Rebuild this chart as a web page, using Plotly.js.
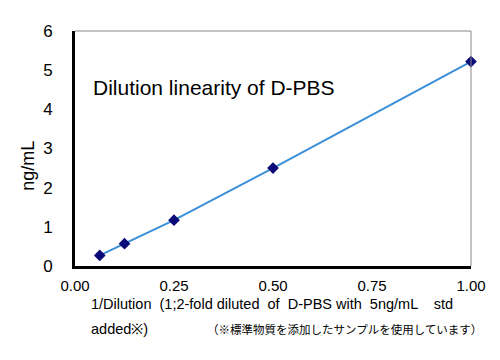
<!DOCTYPE html>
<html><head><meta charset="utf-8">
<script src="https://cdn.plot.ly/plotly-3.0.1.min.js"></script>
<style>body{margin:0;background:#fff}#c{width:500px;height:360px}</style>
</head><body><div id="c"></div>
<script>
const xValues = [0.0625, 0.125, 0.25, 0.5, 1.0];
const yValues = [0.27, 0.57, 1.17, 2.5, 5.22];
const xTicks = [0, 0.25, 0.5, 0.75, 1.0];
const xTickLabels = ["0.00", "0.25", "0.50", "0.75", "1.00"];
const yTicks = [0, 1, 2, 3, 4, 5, 6];

const FONT = "Liberation Sans, Arial, sans-serif";
const trace = {
  x: xValues, y: yValues, type: "scatter", mode: "lines+markers",
  line: {color: "#3b8fd8", width: 2},
  marker: {symbol: "diamond", size: 9, color: "#0a0a78"},
  cliponaxis: false, hoverinfo: "none"
};
const layout = {
  width: 500, height: 360,
  margin: {l: 75, r: 29, t: 31, b: 94},
  paper_bgcolor: "#fff", plot_bgcolor: "#fff",
  showlegend: false,
  font: {family: FONT, size: 15, color: "#000"},
  xaxis: {range: [0, 1], tickvals: xTicks, ticktext: xTickLabels,
    showgrid: false, zeroline: false, showline: true, linecolor: "#000", linewidth: 3,
    ticks: "", ticklabelstandoff: 4, tickfont: {size: 15, family: FONT}},
  yaxis: {range: [0, 6], tickvals: yTicks, showgrid: false, zeroline: false,
    showline: true, linecolor: "#000", linewidth: 3, ticks: "",
    ticklabelstandoff: 16, tickfont: {size: 17, family: FONT}},
  shapes: [
    {type: "line", xref: "paper", yref: "paper", x0: 0, x1: 1, y0: 1, y1: 1, line: {color: "#888", width: 1}},
    {type: "line", xref: "paper", yref: "paper", x0: 1, x1: 1, y0: 0, y1: 1, line: {color: "#888", width: 1}}
  ],
  annotations: [
    {text: "ng/mL", xref: "paper", yref: "paper", x: -0.119, y: 0.426, textangle: -90,
      xanchor: "center", yanchor: "middle", showarrow: false, font: {size: 18, family: FONT}},
    {text: "Dilution linearity of D-PBS", xref: "paper", yref: "paper", x: 0.04, y: 0.76,
      xanchor: "left", yanchor: "middle", showarrow: false, font: {size: 21, family: FONT}},
    {text: "1/Dilution  (1;2-fold diluted  of  D-PBS with  5ng/mL    std", xref: "paper", yref: "paper",
      x: 0.035, y: -0.16, xanchor: "left", yanchor: "middle", showarrow: false, font: {size: 14.5, family: FONT}},
    {text: "added※)", xref: "paper", yref: "paper",
      x: 0.035, y: -0.268, xanchor: "left", yanchor: "middle", showarrow: false, font: {size: 14.5, family: FONT}},
    {text: "（※標準物質を添加したサンプルを使用しています）", xref: "paper", yref: "paper",
      x: 0.328, y: -0.268, xanchor: "left", yanchor: "middle", showarrow: false, font: {size: 11.5, family: "Noto Sans CJK JP, sans-serif"}}
  ]
};
Plotly.newPlot("c", [trace], layout, {staticPlot: true});
</script></body></html>
